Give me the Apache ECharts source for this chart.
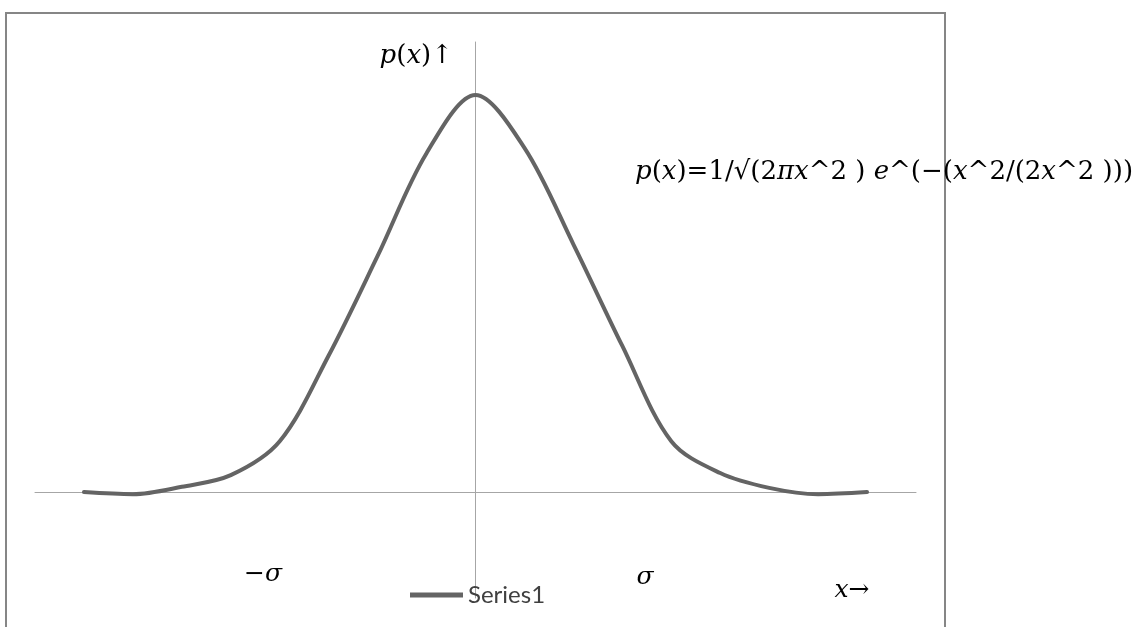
<!DOCTYPE html>
<html>
<head>
<meta charset="utf-8">
<script src="https://cdn.jsdelivr.net/npm/echarts@6/dist/echarts.min.js"></script>
<style>
html,body{margin:0;padding:0;background:#fff;}
#chart{width:1142px;height:627px;}
</style>
</head>
<body>
<div id="chart"></div>
<script>
// x values (units of sigma) and read-off density values
var xValues = [-4, -3.5, -3, -2.5, -2, -1.5, -1, -0.5, 0, 0.5, 1, 1.5, 2, 2.5, 3, 3.5, 4];
var series1 = [0, -0.002, 0.005, 0.016, 0.048, 0.129, 0.223, 0.320, 0.375, 0.325, 0.234, 0.138, 0.048, 0.018, 0.004, -0.002, 0];
var seriesName = 'Series1';
var labelYAxis = 'p(x)↑';
var labelMinusSigma = '−σ';
var labelSigma = 'σ';
var labelXAxis = 'x→';

var serif = '"DejaVu Serif", "Liberation Serif", serif';
var rich = {
  i: {fontStyle: 'italic', fontFamily: serif, fontSize: 26, fill: '#000'},
  n: {fontFamily: serif, fontSize: 26, fill: '#000'}
};
var richSmall = {
  i: {fontStyle: 'italic', fontFamily: serif, fontSize: 25, fill: '#000'},
  n: {fontFamily: serif, fontSize: 25, fill: '#000'}
};

var chart = echarts.init(document.getElementById('chart'));
var points = xValues.map(function (x, i) { return [x, series1[i]]; });

chart.setOption({
  animation: false,
  backgroundColor: '#fff',
  grid: {left: 35, right: 226, top: 42, bottom: 29},
  xAxis: {
    type: 'value', min: -4.5, max: 4.5,
    axisLine: {show: true, onZero: true, lineStyle: {color: '#a6a6a6', width: 1}},
    axisTick: {show: false}, axisLabel: {show: false}, splitLine: {show: false}
  },
  yAxis: {
    type: 'value', min: -0.1, max: 0.425,
    axisLine: {show: true, onZero: true, lineStyle: {color: '#a6a6a6', width: 1}},
    axisTick: {show: false}, axisLabel: {show: false}, splitLine: {show: false}
  },
  legend: {
    data: [{name: seriesName, icon: 'rect'}],
    left: 410, top: 583, padding: 0,
    itemWidth: 53, itemHeight: 5,
    textStyle: {fontFamily: 'Lato, "Open Sans", sans-serif', fontSize: 24, color: '#404040'}
  },
  series: [{
    name: seriesName,
    type: 'line',
    data: points,
    smooth: 0.33,
    symbol: 'none',
    lineStyle: {color: '#646464', width: 4, cap: 'round', join: 'round'},
    itemStyle: {color: '#646464'}
  }],
  graphic: [
    {type: 'rect', shape: {x: 6, y: 13, width: 939, height: 700}, style: {fill: 'none', stroke: '#868686', lineWidth: 2}, silent: true, z: 100},
    {type: 'text', x: 453, y: 56, style: {text: '{i|p}{n|(}{i|x}{n|)↑}', rich: rich, align: 'right', verticalAlign: 'middle'}, z: 110},
    {type: 'text', x: 635, y: 172, style: {text: '{i|p}{n|(}{i|x}{n|)=1/√(2}{i|πx}{n|^2 ) }{i|e}{n|^(−(}{i|x}{n|^2/(2}{i|x}{n|^2 )))}', rich: rich, align: 'left', verticalAlign: 'middle'}, z: 110},
    {type: 'text', x: 263, y: 574, style: {text: '{n|' + labelMinusSigma.charAt(0) + '}{i|' + labelMinusSigma.charAt(1) + '}', rich: richSmall, align: 'center', verticalAlign: 'middle'}, z: 110},
    {type: 'text', x: 645, y: 577, style: {text: '{i|' + labelSigma + '}', rich: richSmall, align: 'center', verticalAlign: 'middle'}, z: 110},
    {type: 'text', x: 852, y: 590, style: {text: '{i|' + labelXAxis.charAt(0) + '}{n|' + labelXAxis.charAt(1) + '}', rich: richSmall, align: 'center', verticalAlign: 'middle'}, z: 110}
  ]
});
</script>
</body>
</html>
